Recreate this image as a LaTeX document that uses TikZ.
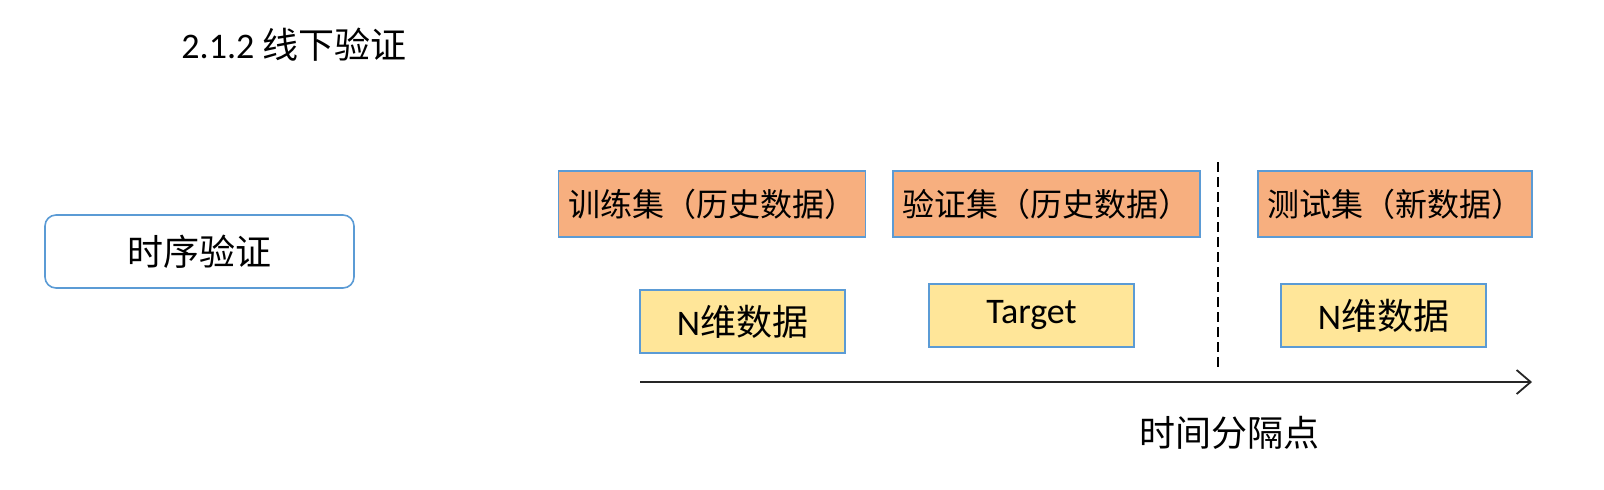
\documentclass[tikz,border=0pt]{standalone}
\usepackage{fontspec}
\setmainfont{Carlito}
\newfontfamily\cjk{Noto Sans CJK SC}
\usetikzlibrary{arrows.meta,positioning}
\definecolor{setfill}{HTML}{F7AF7F}
\definecolor{datafill}{HTML}{FFE699}
\definecolor{boxline}{HTML}{5B9BD5}
\tikzset{
	setbox/.style={draw=boxline, fill=setfill, line width=0.8pt, minimum height=33pt, inner sep=0pt, font=\fontsize{16}{19}\selectfont\cjk},
	databox/.style={draw=boxline, fill=datafill, line width=0.8pt, minimum width=102.5pt, minimum height=31.5pt, inner sep=0pt, font=\fontsize{18}{21}\selectfont},
	big/.style={font=\fontsize{18}{21}\selectfont},
}

\begin{document}
\begin{tikzpicture}[x=0.5pt,y=-0.5pt]
	\useasboundingbox (0,0) rectangle (1604,489);
	\node[big] (title) at (294,45) {2.1.2 {\cjk 线下验证}};
	\node[big, draw=boxline, line width=0.8pt, rounded corners=5.5pt, minimum width=154.5pt, minimum height=36.5pt] (kind) at (199.5,251.5) {\cjk 时序验证};
	\node[setbox, minimum width=153.5pt] (train) at (712,204) {训练集（历史数据）};
	\node[setbox, minimum width=153.5pt] (valid) at (1046.5,204) {验证集（历史数据）};
	\node[setbox, minimum width=137pt] (test) at (1395,204) {测试集（新数据）};
	\node[databox] (xtrain) at (742.5,321.5) {N{\cjk 维数据}};
	\node[databox] (target) at (1031.5,315.5) {Target};
	\node[databox] (xtest) at (1383.5,315.5) {N{\cjk 维数据}};
	\coordinate (cut top) at (1218,162);
	\coordinate (cut bottom) at (1218,367);
	\draw[dashed, line width=0.75pt, dash pattern=on 5pt off 2.5pt] (cut top) -- (cut bottom);
	\coordinate (t start) at (640,382);
	\coordinate (t end) at (1532,382);
	\draw[-{Straight Barb[length=7pt, width=12pt]}, line width=0.9pt, black!85] (t start) -- (t end);
	\node[big] (cut) at (1229,433) {\cjk 时间分隔点};
\end{tikzpicture}
\end{document}
